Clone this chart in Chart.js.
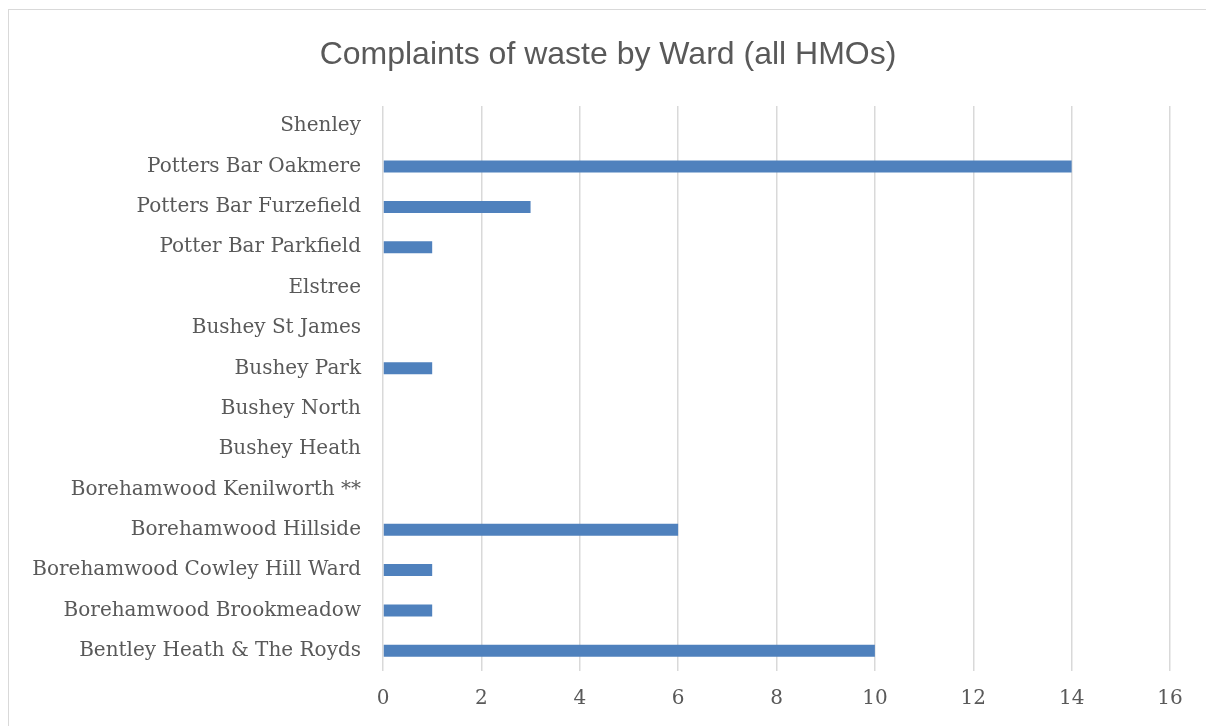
<!DOCTYPE html>
<html>
<head>
<meta charset="utf-8">
<script src="https://cdn.jsdelivr.net/npm/chart.js@4/dist/chart.umd.min.js"></script>
<style>
html,body{margin:0;padding:0;background:#fff;overflow:hidden;width:1206px;height:726px;}
#frame{position:absolute;left:8px;top:9px;width:1300px;height:800px;border:1.5px solid #d9d9d9;box-sizing:border-box;}
#wrap{position:absolute;left:0;top:0;width:1206px;height:726px;}
</style>
</head>
<body>
<div id="frame"></div>
<div id="wrap"><canvas id="c" width="1206" height="726"></canvas></div>
<script>
const categories = [
  "Shenley",
  "Potters Bar Oakmere",
  "Potters Bar Furzefield",
  "Potter Bar Parkfield",
  "Elstree",
  "Bushey St James",
  "Bushey Park",
  "Bushey North",
  "Bushey Heath",
  "Borehamwood Kenilworth **",
  "Borehamwood Hillside",
  "Borehamwood Cowley Hill Ward",
  "Borehamwood Brookmeadow",
  "Bentley Heath & The Royds"
];
const complaints = [0, 14, 3, 1, 0, 0, 1, 0, 0, 0, 6, 1, 1, 10];
const xTicks = [0, 2, 4, 6, 8, 10, 12, 14, 16];
const titleText = "Complaints of waste by Ward (all HMOs)";

const labelFont = {family: "'DejaVu Serif', serif", size: 20};
const textColor = '#595959';

// Title drawn by a small plugin so it can be centred where the original places it
const titlePlugin = {
  id: 'centredTitle',
  afterDraw(chart) {
    const ctx = chart.ctx;
    ctx.save();
    ctx.font = "normal 32px 'Liberation Sans', Arial, sans-serif";
    ctx.fillStyle = textColor;
    ctx.textAlign = 'center';
    ctx.textBaseline = 'middle';
    ctx.fillText(titleText, 608, 55);
    ctx.restore();
  }
};

new Chart(document.getElementById('c'), {
  type: 'bar',
  data: {
    labels: categories,
    datasets: [{
      data: complaints,
      backgroundColor: '#4f81bd',
      borderWidth: 0,
      inflateAmount: 0,
      barThickness: 12
    }]
  },
  options: {
    indexAxis: 'y',
    responsive: false,
    animation: false,
    events: [],
    layout: {padding: {left: 10, right: 36, top: 106, bottom: 0}},
    plugins: {
      legend: {display: false},
      tooltip: {enabled: false},
      title: {display: false}
    },
    scales: {
      x: {
        type: 'linear',
        min: xTicks[0],
        max: xTicks[xTicks.length - 1],
        afterBuildTicks: (scale) => { scale.ticks = xTicks.map(v => ({value: v})); },
        afterFit: (scale) => { scale.height = 726 - 671; },
        ticks: {color: textColor, font: labelFont, padding: 16},
        grid: {color: '#d9d9d9', lineWidth: 1.5, drawTicks: false},
        border: {display: false}
      },
      y: {
        type: 'category',
        afterFit: (scale) => { scale.width = 383 - 10; },
        ticks: {color: textColor, font: labelFont, padding: 22, autoSkip: false},
        grid: {display: false, drawTicks: false},
        border: {display: false}
      }
    }
  },
  plugins: [titlePlugin]
});
</script>
</body>
</html>
